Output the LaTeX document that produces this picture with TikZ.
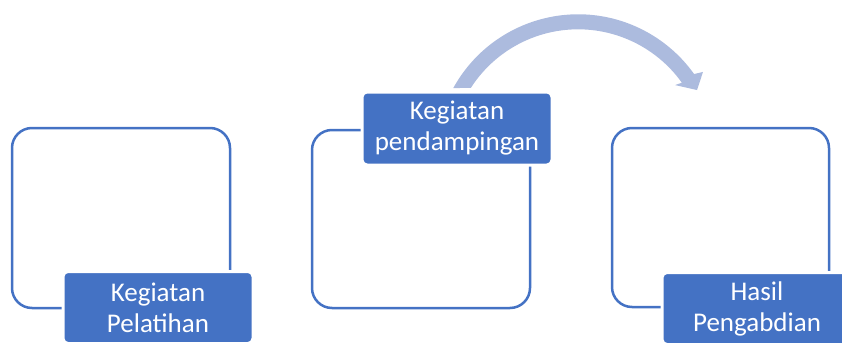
\documentclass[tikz,border=0pt]{standalone}
\usepackage{fontspec}
\setmainfont{Carlito}
\definecolor{obl}{RGB}{68,114,196}
\definecolor{arcblue}{RGB}{172,187,222}
\begin{document}
\begin{tikzpicture}[x=1pt,y=1pt,
 frame/.style={draw=obl,line width=2.5pt,rounded corners=20pt,inner sep=0pt},
 lbl/.style={fill=obl,draw=white,line width=3pt,rounded corners=5pt,text=white,align=center,
   minimum width=190pt,minimum height=72pt,inner sep=0pt,font=\fontsize{27}{31}\selectfont}]
\useasboundingbox (0,0) rectangle (842,-345);
% frames
\node[frame,minimum width=218pt,minimum height=180pt] (b1) at (121,-218) {};
\node[frame,minimum width=218pt,minimum height=178pt] (b2) at (421,-219) {};
\node[frame,minimum width=217pt,minimum height=179pt] (b3) at (720.5,-217.5) {};
% curved arrow
\coordinate (arcc) at (578.1,-156.8);
\fill[arcblue,shift={(arcc)}] (151.13:142.5) arc[start angle=151.13,end angle=35.5,radius=142.5]
  -- (34.2:151) -- (29.3:136.4) -- (36.5:120.6) -- (35.5:127.5)
  arc[start angle=35.5,end angle=147.34,radius=127.5] -- cycle;
% labels
\node[lbl] (l1) at (158,-307.5) {Kegiatan\\Pelatihan};
\node[lbl,minimum height=73pt] (l2) at (457,-128.5) {Kegiatan\\pendampingan};
\node[lbl] (l3) at (757,-308.5) {Hasil\\Pengabdian};
\end{tikzpicture}
\end{document}
